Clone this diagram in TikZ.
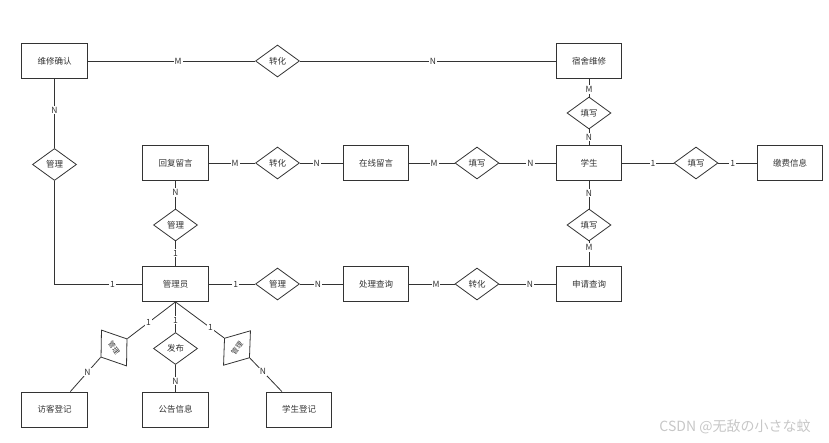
\documentclass[tikz,border=0pt]{standalone}
\usepackage{fontspec}
\setmainfont{Noto Sans CJK SC}
\usepackage{tikz}
\usetikzlibrary{positioning}
\usetikzlibrary{shapes,arrows}
\definecolor{ink}{HTML}{333333}
\tikzstyle{entity} = [rectangle, draw=ink, text=ink, 
    minimum width=65.6pt, minimum height=35pt, inner sep=0pt, font=\fontsize{8.5}{10}\selectfont]
\tikzstyle{relation} = [diamond, draw=ink, text=ink, 
    minimum width=44pt, minimum height=32pt, inner sep=0pt, font=\fontsize{8.5}{10}\selectfont]
\tikzstyle{tilted} = [relation, font=\fontsize{7}{8}\selectfont]
\tikzstyle{line} = [draw=ink]
\tikzstyle{card} = [fill=white, text=ink, inner sep=1pt, font=\fontsize{8.5}{10}\selectfont]

\begin{document}
\begin{tikzpicture}[x=1pt, y=1pt, node distance = 100pt, on grid, line width=0.8pt]
        \useasboundingbox (0,0) rectangle (829,-443);
            % Nodes
        \node [entity] (wxqr) at (54.5,-61) {维修确认};
        \node [relation, right = 223pt of wxqr] (zh1) {转化};
        \node [entity, right = 311.5pt of zh1] (sswx) {宿舍维修};
        \node [relation, below = 52pt of sswx] (tx1) {填写};
        \node [entity, below = 50pt of tx1] (xs) {学生};
        \node [relation, right = 107pt of xs] (tx2) {填写};
        \node [entity, right = 94pt of tx2] (jfxx) {缴费信息};
        \node [relation, below = 62pt of xs] (tx3) {填写};
        \node [entity, below = 59pt of tx3] (sqcx) {申请查询};
        \node [relation, left = 112pt of sqcx] (zh3) {转化};
        \node [entity, left = 101pt of zh3] (clcx) {处理查询};
        \node [relation, left = 98.5pt of clcx] (gl2) {管理};
        \node [entity, left = 102pt of gl2] (gly) {管理员};
        \node [relation, above = 59pt of gly] (gl1) {管理};
        \node [entity, above = 62pt of gl1] (hfly) {回复留言};
        \node [relation, right = 102pt of hfly] (zh2) {转化};
        \node [entity, right = 98.5pt of zh2] (zxly) {在线留言};
        \node [relation, right = 101pt of zxly] (tx4) {填写};
        \node [relation, below = 103.5pt of wxqr] (gl0) {管理};
        \node [relation, below = 64.5pt of gly] (fb) {发布};
        \node [entity, below = 61pt of fb] (ggxx) {公告信息};
        \node [entity, left = 121pt of ggxx] (fkdj) {访客登记};
        \node [entity, right = 123.5pt of ggxx] (xsdj) {学生登记};
        \node [tilted, rotate=-55, above right = 61.5pt and 59.5pt of fkdj] (gl3) {管理};
        \node [tilted, rotate=52, above left = 61.5pt and 62pt of xsdj] (gl4) {管理};
        \node [text=black!22, font=\fontsize{14}{16}\selectfont] (mark) at (735,-427) {CSDN @无敌の小さな蚊};
            % Edges
        \path [line] (wxqr) --node[pos=0.54, card] {M} (zh1);
        \path [line] (zh1) --node[pos=0.52, card] {N} (sswx);
        \path [line] (sswx) --node[pos=0.6, card] {M} (tx1);
        \path [line] (tx1) --node[pos=0.5, card] {N} (xs);
        \path [line] (xs) --node[pos=0.6, card] {1} (tx2);
        \path [line] (tx2) --node[pos=0.37, card] {1} (jfxx);
        \path [line] (xs) --node[pos=0.45, card] {N} (tx3);
        \path [line] (tx3) --node[pos=0.25, card] {M} (sqcx);
        \path [line] (hfly) --node[pos=0.57, card] {M} (zh2);
        \path [line] (zh2) --node[pos=0.39, card] {N} (zxly);
        \path [line] (zxly) --node[pos=0.55, card] {M} (tx4);
        \path [line] (tx4) --node[pos=0.55, card] {N} (xs);
        \path [line] (hfly) --node[pos=0.42, card] {N} (gl1);
        \path [line] (gl1) --node[pos=0.47, card] {1} (gly);
        \path [line] (gly) --node[pos=0.58, card] {1} (gl2);
        \path [line] (gl2) --node[pos=0.42, card] {N} (clcx);
        \path [line] (clcx) --node[pos=0.59, card] {M} (zh3);
        \path [line] (zh3) --node[pos=0.54, card] {N} (sqcx);
        \path [line] (wxqr) --node[pos=0.45, card] {N} (gl0);
        \path [line] (gl0) |-node[pos=0.83, card] {1} (gly);
        \path [line] (gly) --node[pos=0.6, card] {1} (fb);
        \path [line] (fb) --node[pos=0.6, card] {N} (ggxx);
        \path [line] (gly.south) --node[pos=0.56, card] {1} (gl3.north);
        \path [line] (gl3.south) --node[pos=0.43, card] {N} (fkdj);
        \path [line] (gly.south) --node[pos=0.72, card] {1} (gl4.north);
        \path [line] (gl4.south) --node[pos=0.41, card] {N} (xsdj);
    \end{tikzpicture}
\end{document}
